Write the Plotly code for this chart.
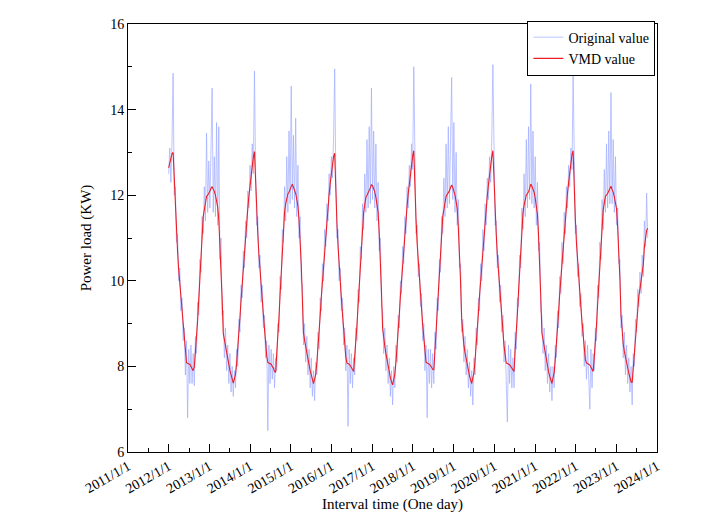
import pandas as pd
import plotly.graph_objects as go

# VMD component, one value every 10 days from 2012/1/1
vmd_value = [
    12.64, 12.75, 12.87, 12.97, 13.0, 12.35, 11.76, 11.17, 10.68, 10.26,
    9.92, 9.59, 9.24, 8.90, 8.55, 8.26, 8.09, 8.07, 8.06, 8.05,
    8.0, 7.96, 7.9, 7.98, 8.31, 8.62, 9.08, 9.56, 10.05, 10.53,
    11.01, 11.5, 11.66, 11.83, 11.97, 12.0, 12.04, 12.09, 12.16, 12.2,
    12.14, 12.09, 12.0, 11.86, 11.72, 11.42, 10.91, 10.37, 9.57, 8.77,
    8.61, 8.45, 8.29, 8.16, 8.03, 7.90, 7.81, 7.71, 7.61, 7.71,
    7.82, 8.07, 8.38, 8.74, 9.15, 9.56, 9.95, 10.31, 10.68, 11.02,
    11.34, 11.68, 11.98, 12.23, 12.48, 12.70, 12.89, 13.02, 12.26, 11.65,
    11.08, 10.62, 10.21, 9.88, 9.54, 9.21, 8.88, 8.53, 8.25, 8.09,
    8.07, 8.06, 8.05, 8.0, 7.96, 7.88, 7.86, 8.30, 8.65, 9.14,
    9.67, 10.19, 10.7, 11.25, 11.6, 11.8, 11.97, 12.03, 12.07, 12.12,
    12.2, 12.26, 12.18, 12.12, 12.04, 11.9, 11.75, 11.42, 10.93, 10.38,
    9.58, 8.79, 8.61, 8.45, 8.29, 8.15, 8.02, 7.9, 7.8, 7.7,
    7.6, 7.7, 7.82, 8.08, 8.4, 8.77, 9.19, 9.62, 9.99, 10.36,
    10.74, 11.07, 11.4, 11.73, 12.02, 12.28, 12.53, 12.72, 12.9, 12.98,
    12.05, 11.38, 10.82, 10.33, 9.96, 9.59, 9.23, 8.86, 8.48, 8.22,
    8.08, 8.07, 8.05, 8.02, 7.97, 7.92, 7.88, 8.24, 8.55, 8.96,
    9.42, 9.89, 10.38, 10.85, 11.33, 11.6, 11.78, 11.95, 12.0, 12.05,
    12.1, 12.17, 12.25, 12.22, 12.15, 12.08, 11.95, 11.8, 11.6, 11.1,
    10.55, 9.75, 8.9, 8.64, 8.47, 8.3, 8.14, 8.0, 7.86, 7.74,
    7.64, 7.57, 7.69, 7.82, 8.1, 8.42, 8.82, 9.22, 9.64, 10.02,
    10.38, 10.75, 11.08, 11.41, 11.75, 12.03, 12.28, 12.53, 12.74, 12.92,
    13.04, 12.1, 11.45, 10.88, 10.42, 10.04, 9.69, 9.34, 8.97, 8.61,
    8.28, 8.1, 8.08, 8.07, 8.05, 8.02, 7.97, 7.93, 7.92, 8.4,
    8.7, 9.15, 9.62, 10.1, 10.57, 11.04, 11.5, 11.66, 11.82, 11.97,
    12.02, 12.06, 12.1, 12.18, 12.24, 12.18, 12.1, 12.0, 11.85, 11.68,
    11.24, 10.7, 9.98, 9.1, 8.66, 8.49, 8.32, 8.16, 8.02, 7.89,
    7.78, 7.68, 7.6, 7.74, 7.84, 8.15, 8.45, 8.82, 9.24, 9.65,
    10.0, 10.37, 10.72, 11.06, 11.37, 11.69, 11.99, 12.24, 12.48, 12.7,
    12.9, 13.04, 12.3, 11.66, 11.08, 10.6, 10.2, 9.85, 9.52, 9.18,
    8.83, 8.48, 8.22, 8.08, 8.07, 8.06, 8.04, 8.0, 7.95, 7.9,
    7.88, 8.4, 8.74, 9.23, 9.74, 10.22, 10.71, 11.22, 11.57, 11.77,
    11.93, 12.0, 12.04, 12.08, 12.16, 12.26, 12.21, 12.15, 12.07, 11.93,
    11.78, 11.55, 11.05, 10.45, 9.62, 8.78, 8.61, 8.44, 8.28, 8.14,
    8.0, 7.87, 7.77, 7.67, 7.6, 7.74, 7.85, 8.17, 8.48, 8.86,
    9.28, 9.7, 10.07, 10.43, 10.8, 11.13, 11.46, 11.79, 12.06, 12.3,
    12.56, 12.76, 12.95, 13.04, 12.05, 11.45, 10.89, 10.44, 10.07, 9.74,
    9.38, 9.04, 8.69, 8.33, 8.16, 8.08, 8.07, 8.05, 8.03, 7.98,
    7.93, 7.88, 8.21, 8.53, 8.96, 9.45, 9.95, 10.46, 10.95, 11.46,
    11.65, 11.82, 11.97, 12.01, 12.04, 12.1, 12.17, 12.21, 12.13, 12.07,
    11.96, 11.82, 11.68, 11.25, 10.72, 10.05, 9.2, 8.7, 8.52, 8.35,
    8.2, 8.07, 7.94, 7.84, 7.74, 7.64, 7.62, 7.95, 8.3, 8.7,
    9.05, 9.4, 9.65, 9.8, 10.0, 10.2, 10.38, 10.8, 11.08, 11.18, 11.23,
]

# original load, same 10-day sampling (estimated from the noisy band)
original_value = [
    12.5, 13.1, 12.3, 13.25, 14.85, 12.0, 12.2, 10.9, 11.1, 10.0,
    10.3, 9.3, 9.6, 8.6, 8.9, 7.8, 8.6, 6.8, 8.4, 7.6,
    8.5, 7.6, 8.3, 7.55, 8.7, 8.3, 9.5, 9.2, 10.5, 10.2,
    11.5, 11.1, 12.2, 11.4, 13.45, 11.6, 12.8, 11.7, 13.1, 14.5,
    11.6, 12.9, 11.5, 13.7, 11.3, 13.6, 10.5, 11.0, 9.2, 9.3,
    8.2, 8.9, 7.9, 8.5, 7.6, 8.3, 7.4, 8.0, 7.3, 7.9,
    7.5, 8.4, 8.0, 9.1, 8.8, 9.9, 9.6, 10.7, 10.3, 11.4,
    11.0, 12.1, 11.7, 12.7, 12.1, 13.2, 12.5, 14.9, 12.6, 11.3,
    11.5, 10.3, 10.6, 9.5, 9.9, 8.9, 9.2, 8.2, 8.6, 6.5,
    8.5, 7.6, 8.4, 7.7, 8.3, 7.5, 8.2, 7.9, 9.0, 8.8,
    10.1, 9.8, 11.2, 10.9, 12.2, 11.4, 12.9, 11.6, 13.5, 11.8,
    14.55, 11.9, 13.4, 11.7, 13.8, 11.5, 12.7, 11.0, 11.5, 10.0,
    9.9, 8.5, 9.0, 8.1, 8.7, 7.8, 8.4, 7.5, 8.2, 7.3,
    7.9, 7.2, 8.1, 7.8, 8.8, 8.4, 9.6, 9.3, 10.4, 10.0,
    11.2, 10.8, 11.8, 11.4, 12.5, 12.0, 12.9, 12.4, 13.3, 14.95,
    12.5, 11.0, 11.2, 10.0, 10.3, 9.3, 9.6, 8.5, 8.9, 7.9,
    8.5, 6.6, 8.4, 7.6, 8.3, 7.5, 8.2, 7.8, 8.9, 8.6,
    9.8, 9.5, 10.8, 10.5, 11.8, 11.2, 12.5, 11.6, 13.3, 11.7,
    13.6, 11.8, 14.5, 11.9, 13.5, 11.7, 13.2, 11.4, 12.3, 10.7,
    11.0, 9.4, 9.3, 8.3, 8.9, 7.9, 8.5, 7.6, 8.2, 7.3,
    7.9, 7.1, 8.0, 7.5, 8.5, 8.1, 9.2, 8.9, 10.0, 9.7,
    10.8, 10.4, 11.5, 11.1, 12.2, 11.7, 12.7, 12.2, 13.2, 12.6,
    15.0, 12.5, 11.1, 11.3, 10.1, 10.4, 9.4, 9.7, 8.6, 9.0,
    7.9, 8.5, 6.8, 8.4, 7.6, 8.4, 7.5, 8.3, 7.6, 8.8,
    8.4, 9.6, 9.3, 10.5, 10.2, 11.5, 11.1, 12.4, 11.5, 13.2,
    11.7, 13.6, 11.8, 13.3, 14.75, 11.9, 13.7, 11.6, 13.0, 11.3,
    11.9, 10.3, 10.4, 8.8, 9.1, 8.1, 8.7, 7.8, 8.4, 7.5,
    8.1, 7.3, 7.9, 7.1, 8.2, 7.8, 8.9, 8.5, 9.6, 9.3,
    10.4, 10.0, 11.2, 10.7, 11.8, 11.3, 12.4, 11.9, 12.9, 12.3,
    13.3, 15.05, 12.7, 11.3, 11.4, 10.3, 10.6, 9.5, 9.9, 8.8,
    9.2, 8.1, 8.6, 7.7, 6.7, 8.5, 7.6, 8.4, 7.5, 8.2,
    7.5, 8.8, 8.4, 9.6, 9.4, 10.6, 10.3, 11.7, 11.2, 12.5,
    11.5, 13.3, 11.7, 13.6, 11.9, 14.6, 11.8, 13.5, 11.7, 12.9,
    11.3, 12.3, 10.7, 10.9, 9.3, 9.2, 8.3, 8.9, 7.9, 8.5,
    7.6, 8.3, 7.4, 8.0, 7.2, 8.0, 7.5, 8.5, 8.2, 9.3,
    8.9, 10.1, 9.7, 10.9, 10.4, 11.6, 11.1, 12.2, 11.7, 12.7,
    12.2, 13.1, 12.6, 14.85, 12.4, 11.1, 11.3, 10.1, 10.4, 9.4,
    9.7, 8.7, 9.0, 8.0, 8.6, 7.7, 8.5, 7.6, 7.0, 8.4,
    7.5, 8.3, 7.9, 8.9, 8.6, 9.9, 9.6, 10.9, 10.5, 11.9,
    11.2, 12.6, 11.6, 13.2, 11.7, 13.5, 11.8, 14.4, 11.8, 13.3,
    11.6, 12.9, 11.3, 11.7, 10.4, 10.5, 8.9, 9.2, 8.2, 8.8,
    7.8, 8.5, 7.6, 8.2, 7.4, 8.0, 7.1, 8.3, 8.0, 9.1,
    8.8, 9.8, 9.4, 10.2, 9.7, 10.6, 10.1, 11.4, 10.8, 12.05, 11.0,
]

dates = pd.date_range(start="2012-01-01", periods=len(vmd_value), freq="10D")

year_ticks = [f"{y}-01-01" for y in range(2011, 2025)]
year_labels = [f"{y}/1/1" for y in range(2011, 2025)]
half_ticks = [f"{y}-07-02" for y in range(2011, 2024)]

font = "Liberation Serif, Times New Roman, serif"

fig = go.Figure()
fig.add_trace(go.Scatter(
    x=dates, y=original_value, mode="lines", name="Original value",
    line=dict(color="rgba(160,172,255,0.7)", width=1)
))
fig.add_trace(go.Scatter(
    x=dates, y=vmd_value, mode="lines", name="VMD value",
    line=dict(color="rgb(235,30,40)", width=1.1)
))

# page body adds 8px, so margins are shifted to land the plot box where the original has it
fig.update_layout(
    width=705, height=529,
    margin=dict(l=120, r=56, t=16, b=85),
    plot_bgcolor="white", paper_bgcolor="white",
    font=dict(family=font, size=14, color="black"),
    showlegend=True,
    legend=dict(
        x=0.997, y=1.008, xanchor="right", yanchor="top",
        bordercolor="black", borderwidth=1, bgcolor="white",
        font=dict(family=font, size=14),
        tracegroupgap=0, itemwidth=30,
    ),
)

fig.update_xaxes(
    type="date", range=["2011-01-01", "2024-01-01"], automargin=False,
    tickmode="array", tickvals=year_ticks, ticktext=year_labels,
    tickangle=-30, ticks="inside", ticklen=8, tickcolor="black",
    minor=dict(tickmode="array", tickvals=half_ticks, ticks="inside", ticklen=4, tickcolor="black"),
    showline=True, linecolor="black", linewidth=1, mirror=True,
    showgrid=False, zeroline=False,
    title=dict(text="Interval time (One day)", font=dict(family=font, size=15), standoff=2),
)
fig.update_yaxes(
    range=[6, 16], dtick=2, tick0=6, automargin=False,
    ticks="inside", ticklen=8, tickcolor="black",
    minor=dict(dtick=1, ticks="inside", ticklen=4, tickcolor="black"),
    showline=True, linecolor="black", linewidth=1, mirror=True,
    showgrid=False, zeroline=False,
    title=dict(text="Power load (KW)", font=dict(family=font, size=15), standoff=14),
)

fig.write_html("out.html")
